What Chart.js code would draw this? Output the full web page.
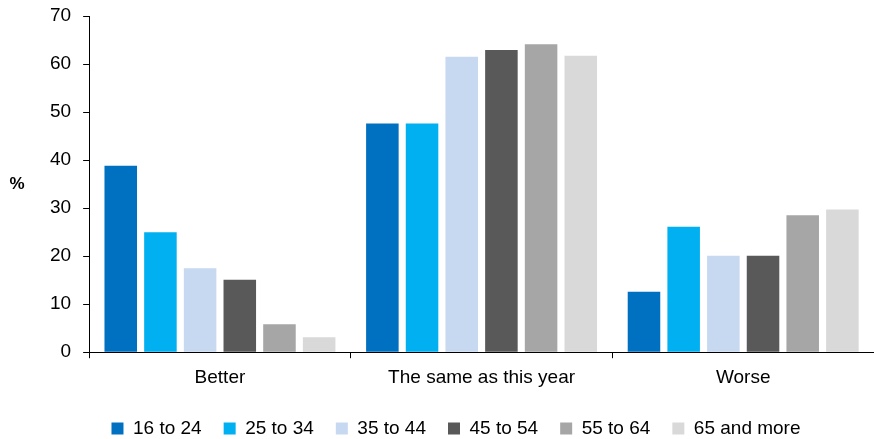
<!DOCTYPE html>
<html>
<head>
<meta charset="utf-8">
<script src="https://cdn.jsdelivr.net/npm/chart.js@4"></script>
<style>
  html, body { margin: 0; padding: 0; background: #fff; }
  #wrap { width: 874px; height: 439px; position: relative; }
</style>
</head>
<body>
<div id="wrap"><canvas id="chart"></canvas></div>
<script>
// categories and series
const categories = ['Better', 'The same as this year', 'Worse'];
const ageGroups = ['16 to 24', '25 to 34', '35 to 44', '45 to 54', '55 to 64', '65 and more'];
const age16to24 = [38.8, 47.6, 12.6];
const age25to34 = [25.0, 47.6, 26.1];
const age35to44 = [17.5, 61.5, 20.1];
const age45to54 = [15.1, 62.9, 20.1];
const age55to64 = [5.8, 64.1, 28.5];
const age65plus = [3.1, 61.7, 29.7];
const yTicks = [0, 10, 20, 30, 40, 50, 60, 70];

const seriesValues = [age16to24, age25to34, age35to44, age45to54, age55to64, age65plus];
const colors = ['#0070C0', '#00B0F0', '#C6D9F1', '#595959', '#A6A6A6', '#D9D9D9'];

const font = "'Liberation Sans', Arial, sans-serif";

// draws the horizontal "%" axis title
const percentTitle = {
    id: 'percentTitle',
    afterDraw(chart) {
        const ctx = chart.ctx;
        ctx.save();
        ctx.font = 'bold 17px ' + font;
        ctx.fillStyle = '#000';
        ctx.textAlign = 'center';
        ctx.textBaseline = 'middle';
        ctx.fillText('%', 17, 184);
        ctx.restore();
    }
};

// trims the legend box so it sits closer to the bottom edge
const legendTrim = {
    id: 'legendTrim',
    beforeInit(chart) {
        const fit = chart.legend.fit;
        chart.legend.fit = function () {
            fit.call(this);
            this.height -= 9;
        };
    }
};

new Chart(document.getElementById('chart'), {
    type: 'bar',
    data: {
        labels: categories,
        datasets: ageGroups.map((name, i) => ({
            label: name,
            data: seriesValues[i],
            backgroundColor: colors[i],
            borderWidth: 0,
            barPercentage: 0.82,
            categoryPercentage: 0.91
        }))
    },
    options: {
        responsive: true,
        maintainAspectRatio: false,
        animation: false,
        layout: { padding: { left: 38, right: 0, top: 0, bottom: 0 } },
        plugins: {
            legend: {
                position: 'bottom',
                labels: {
                    font: { family: font, size: 19 },
                    color: '#000',
                    boxWidth: 12,
                    boxHeight: 12,
                    padding: 22
                }
            },
            tooltip: { enabled: false }
        },
        scales: {
            x: {
                grid: {
                    drawOnChartArea: false,
                    drawTicks: true,
                    tickLength: 6,
                    color: '#000'
                },
                border: { color: '#000', width: 1 },
                ticks: {
                    font: { family: font, size: 19 },
                    color: '#000',
                    padding: 8
                }
            },
            y: {
                min: 0,
                max: 70,
                afterBuildTicks: axis => { axis.ticks = yTicks.map(v => ({ value: v })); },
                afterFit: axis => { axis.paddingTop = 16; },
                grid: {
                    drawOnChartArea: false,
                    drawTicks: true,
                    tickLength: 6,
                    color: '#000'
                },
                border: { color: '#000', width: 1 },
                ticks: {
                    font: { family: font, size: 19 },
                    color: '#000',
                    padding: 12
                }
            }
        }
    },
    plugins: [percentTitle, legendTrim]
});
</script>
</body>
</html>
